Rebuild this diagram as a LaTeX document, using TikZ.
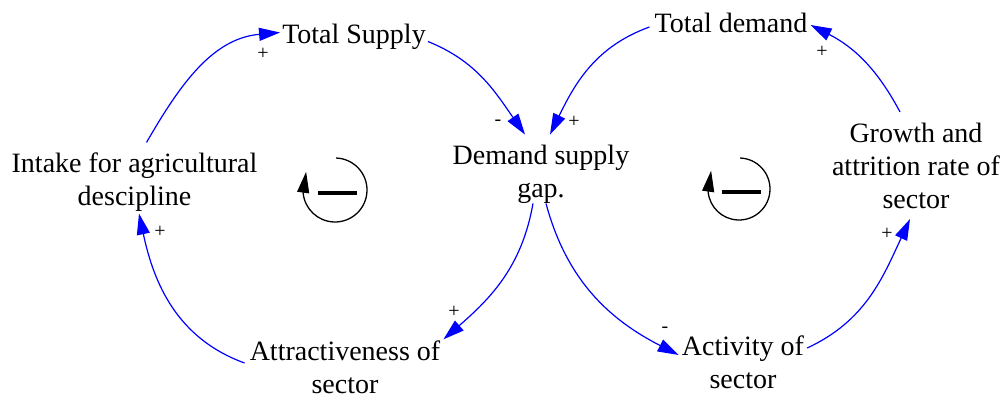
\documentclass[tikz,border=0pt]{standalone}
\usepackage{fontspec}
\setmainfont{Liberation Serif}
\usetikzlibrary{arrows.meta}

\begin{document}
\begin{tikzpicture}[
  x=1pt, y=1pt,
  factor/.style={align=center, inner sep=0pt, font=\fontsize{28}{33}\selectfont},
  sign/.style={inner sep=0pt, font=\fontsize{20}{20}\selectfont},
  link/.style={-{Triangle[length=21pt,width=13pt]}, blue, line width=1.2pt}
]
\useasboundingbox (0,0) rectangle (1006,402);
% variables
\node[factor] (intake) at (134.5,220) {Intake for agricultural\\descipline};
\node[factor] (supply) at (354,365.5) {Total Supply};
\node[factor] (demand) at (731,379) {Total demand};
\node[factor] (gap) at (541,228) {Demand supply\\gap.};
\node[factor] (growth) at (916,236) {Growth and\\attrition rate of\\sector};
\node[factor] (attract) at (345,35) {Attractiveness of\\sector};
\node[factor] (activity) at (743,40) {Activity of\\sector};
% causal links
\draw[link] ([shift={(12,10)}]intake.north) to[out=60,in=185] ([shift={(-2,4)}]supply.west);
\draw[link] ([shift={(2,-5)}]supply.east) to[out=-22,in=125] ([shift={(-16,10)}]gap.north);
\draw[link] ([shift={(-5,-4)}]demand.west) to[out=200,in=64] ([shift={(9,10)}]gap.north);
\draw[link] ([shift={(-16,11)}]growth.north) to[out=118,in=-27] ([shift={(3,-2)}]demand.east);
\draw[link] ([xshift=-8]gap.south) to[out=-100,in=41] ([shift={(3,1)}]attract.north east);
\draw[link] ([xshift=5]gap.south) to[out=-75,in=153] ([shift={(-3,7)}]activity.west);
\draw[link] ([shift={(3,14)}]activity.east) to[out=25,in=-115] ([shift={(-6,-10)}]growth.south);
\draw[link] ([shift={(-5,4)}]attract.west) to[out=160,in=-78] ([shift={(4.5,-2)}]intake.south);
% polarities
\node[sign] (sgn1) at (263,348) {+};
\node[sign] (sgn2) at (498,279) {-};
\node[sign] (sgn3) at (574,280) {+};
\node[sign] (sgn4) at (822,350) {+};
\node[sign] (sgn5) at (454,90) {+};
\node[sign] (sgn6) at (665,72) {-};
\node[sign] (sgn7) at (887,168) {+};
\node[sign] (sgn8) at (160,170) {+};
% balancing loops
\foreach \cx/\cy/\r in {335/212/32, 739/213/31} {
  \draw[line width=1.3pt, -{Triangle[length=21pt,width=12pt]}] (\cx,\cy) ++(88:\r pt) arc[start angle=88, end angle=-175, radius=\r pt] -- ++(3,21);
  \draw[line width=3.5pt] ({\cx-17},{\cy-3}) -- ({\cx+22},{\cy-3});
}
\end{tikzpicture}
\end{document}
